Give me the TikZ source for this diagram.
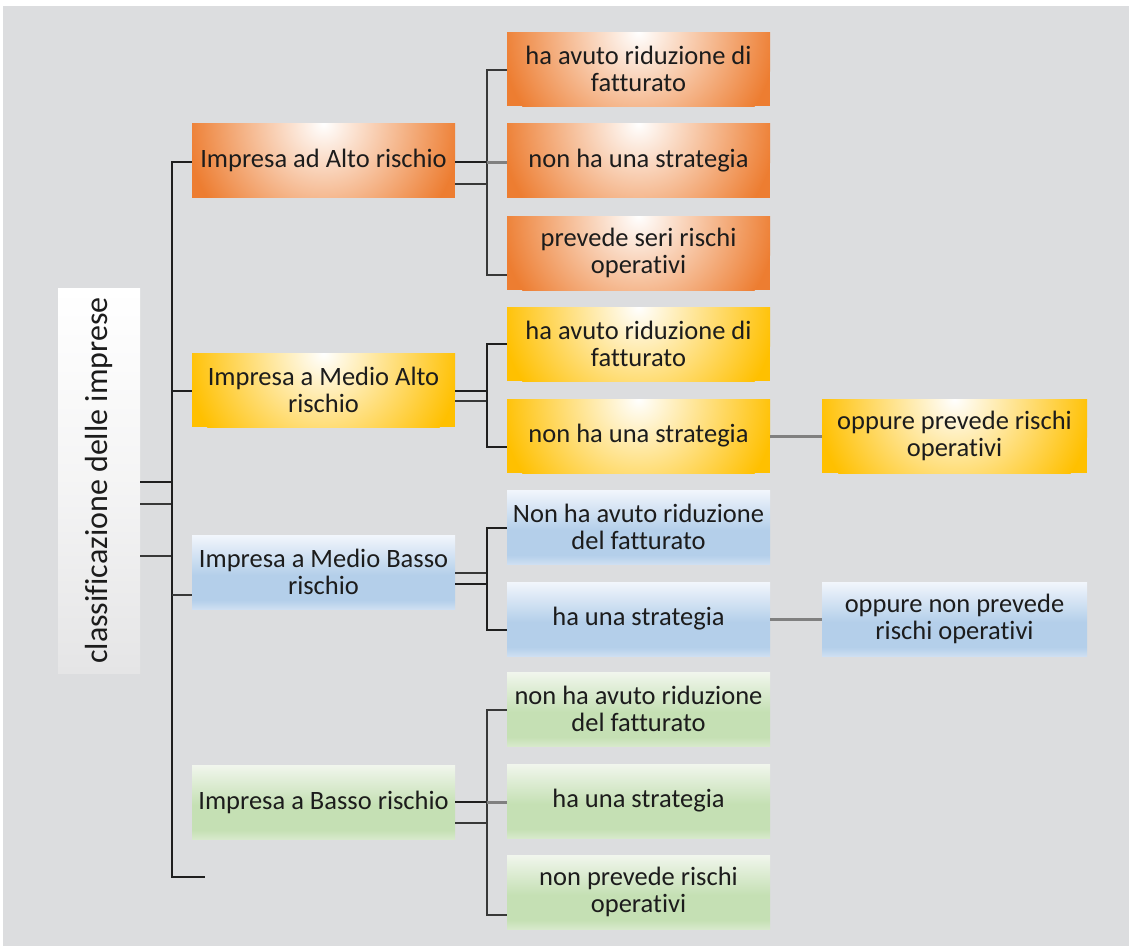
\documentclass[tikz,border=0pt]{standalone}
\usepackage{fontspec}
\setmainfont{Carlito}[Ligatures={NoCommon}]
\usetikzlibrary{calc}
\definecolor{bg}{RGB}{220,221,223}
\definecolor{txt}{RGB}{28,28,28}
\definecolor{orgC}{RGB}{237,125,49}
\definecolor{gldC}{RGB}{255,192,0}
\definecolor{bluB}{RGB}{180,207,234}
\definecolor{bluT}{RGB}{242,246,252}
\definecolor{bluL}{RGB}{206,223,242}
\definecolor{grnB}{RGB}{197,224,180}
\definecolor{grnT}{RGB}{241,246,237}
\definecolor{grnL}{RGB}{215,233,203}
\definecolor{rootB}{RGB}{229,229,230}
\definecolor{gryL}{RGB}{128,128,128}
\pgfdeclareverticalshading{blueV}{100bp}{color(0bp)=(bluL); color(25bp)=(bluL); color(31bp)=(bluB); color(48bp)=(bluB); color(75bp)=(bluT); color(100bp)=(bluT)}
\pgfdeclareverticalshading{greenV}{100bp}{color(0bp)=(grnL); color(25bp)=(grnL); color(31bp)=(grnB); color(48bp)=(grnB); color(75bp)=(grnT); color(100bp)=(grnT)}
\tikzset{
  boxbase/.style={rectangle, inner sep=0pt, align=center, text=txt,
    minimum width=263pt, minimum height=74pt,
    font=\fontsize{26.5}{27}\selectfont},
  obox/.style={boxbase, fill=orgC, path picture={\shade[inner color=white, outer color=orgC] (path picture bounding box.north) circle (138pt);}},
  gbox/.style={boxbase, fill=gldC, path picture={\shade[inner color=white, outer color=gldC] (path picture bounding box.north) circle (138pt);}},
  bbox/.style={boxbase, shading=blueV},
  vbox/.style={boxbase, shading=greenV},
  blk/.style={draw=black!88, line width=2.5pt},
  thn/.style={draw=black!78, line width=2pt},
  gry/.style={draw=gryL, line width=3pt},
}
\begin{document}
\begin{tikzpicture}[x=1pt,y=-1pt]
\useasboundingbox (0,0) rectangle (1129,946);
\fill[white] (0,0) rectangle (1129,946);
\fill[bg] (3,6) rectangle (1129,946);

% root
\shade[top color=white, bottom color=rootB, middle color=white!60!rootB] (58,288) rectangle (140,673);
\node[rotate=90, inner sep=0pt, minimum width=385pt, minimum height=82pt, text=txt, font=\fontsize{32}{34}\selectfont] (root) at (99,480.5) {classificazione delle imprese};

% level 1
\node[obox] (a1) at (323.5,160.5) {Impresa ad Alto rischio};
\node[gbox] (a2) at (323.5,390) {Impresa a Medio Alto\\rischio};
\node[bbox] (a3) at (323.5,572) {Impresa a Medio Basso\\rischio};
\node[vbox] (a4) at (323.5,802) {Impresa a Basso rischio};

% level 2
\node[obox] (k11) at (638.5,69) {ha avuto riduzione di\\fatturato};
\node[obox] (k12) at (638.5,160.5) {non ha una strategia};
\node[obox] (k13) at (638.5,253) {prevede seri rischi\\operativi};
\node[gbox] (k21) at (638.5,344) {ha avuto riduzione di\\fatturato};
\node[gbox] (k22) at (638.5,436) {non ha una strategia};
\node[bbox] (k31) at (638.5,527) {Non ha avuto riduzione\\del fatturato};
\node[bbox] (k32) at (638.5,619) {ha una strategia};
\node[vbox] (k41) at (638.5,709) {non ha avuto riduzione\\del fatturato};
\node[vbox] (k42) at (638.5,801) {ha una strategia};
\node[vbox] (k43) at (638.5,892) {non prevede rischi\\operativi};

% level 3
\node[gbox, minimum width=265pt] (l2) at (954.5,436) {oppure prevede rischi\\operativi};
\node[bbox, minimum width=265pt] (l3) at (954.5,619) {oppure non prevede\\rischi operativi};

% root stubs
\draw[blk] ($(root.south)+(0,1.5)$) -- ++(32,0);
\draw[thn] ($(root.south)+(0,23.5)$) -- ++(32,0);
\draw[thn] ($(root.south)+(0,75.5)$) -- ++(32,0);

% spine
\draw[blk] ($(a1.west)+(0,1.5)$) -- ++(-20,0) |- ($(a4.west)+(13,75)$);
\draw[blk] ($(a2.west)+(0,1)$) -- ++(-20,0);
\draw[thn] ($(a3.west)+(0,23)$) -- ++(-20,0);

% Alto group
\draw[blk] ($(a1.east)+(0,1.5)$) -- ++(32,0);
\draw[thn] ($(a1.east)+(0,23.5)$) -- ++(32,0);
\draw[thn] ($(k11.west)+(0,1)$) -- ++(-20,0) |- ($(k13.west)+(0,22)$);
\draw[gry] ($(k12.west)+(-20,1.5)$) -- ($(k12.west)+(0,1.5)$);

% Medio Alto group
\draw[blk] ($(a2.east)+(0,1)$) -- ++(32,0);
\draw[thn] ($(a2.east)+(0,11)$) -- ++(32,0);
\draw[blk] (k21.west) -- ++(-20,0) |- ($(k22.west)+(0,11)$);
\draw[gry] (k22.east) -- (l2.west);

% Medio Basso group
\draw[thn] ($(a3.east)+(0,1)$) -- ++(32,0);
\draw[blk] ($(a3.east)+(0,12)$) -- ++(32,0);
\draw[blk] ($(k31.west)+(0,1)$) -- ++(-20,0) |- ($(k32.west)+(0,11)$);
\draw[gry] (k32.east) -- (l3.west);

% Basso group
\draw[blk] (a4.east) -- ++(32,0);
\draw[thn] ($(a4.east)+(0,21)$) -- ++(32,0);
\draw[thn] ($(k41.west)+(0,1)$) -- ++(-20,0) |- ($(k43.west)+(0,23)$);
\draw[gry] ($(k42.west)+(-20,1)$) -- ($(k42.west)+(0,1)$);
\end{tikzpicture}
\end{document}
